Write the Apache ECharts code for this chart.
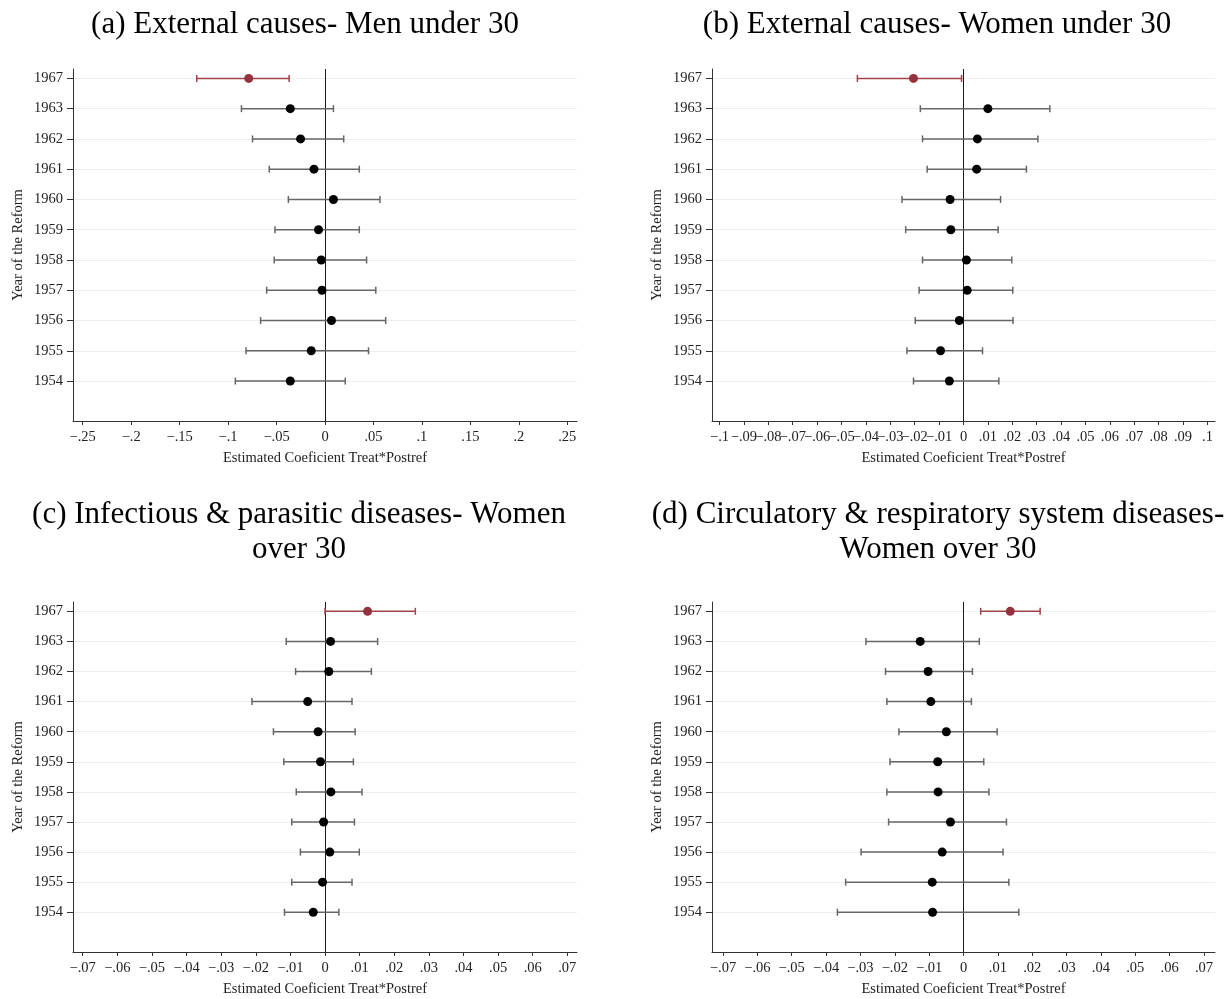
<!DOCTYPE html>
<html>
<head>
<meta charset="utf-8">
<script src="https://cdn.jsdelivr.net/npm/echarts@6/dist/echarts.min.js"></script>
<style>
  html, body { margin: 0; padding: 0; background: #fff; }
  #chart { width: 1225px; height: 999px; }
</style>
</head>
<body>
<div id="chart"></div>
<script>
// rows from bottom (index 0) to top
const years = ["1954", "1955", "1956", "1957", "1958", "1959", "1960", "1961", "1962", "1963", "1967"];
const highlightYear = "1967";

// (a) External causes - Men under 30
const estA = [-0.0358, -0.0142, 0.0067, -0.0031, -0.0039, -0.0067, 0.0087, -0.0114, -0.0252, -0.0358, -0.0787];
const loA = [-0.0925, -0.0815, -0.0665, -0.0602, -0.0524, -0.0516, -0.0378, -0.0575, -0.0748, -0.0862, -0.1323];
const hiA = [0.0209, 0.0449, 0.0626, 0.0524, 0.0429, 0.0354, 0.0567, 0.0354, 0.0193, 0.0087, -0.0370];

// (b) External causes - Women under 30
const estB = [-0.0058, -0.0094, -0.0017, 0.0015, 0.0012, -0.0052, -0.0055, 0.0054, 0.0057, 0.0100, -0.0205];
const loB = [-0.0205, -0.0232, -0.0198, -0.0182, -0.0168, -0.0237, -0.0252, -0.0149, -0.0168, -0.0177, -0.0435];
const hiB = [0.0145, 0.0078, 0.0203, 0.0202, 0.0198, 0.0142, 0.0152, 0.0258, 0.0305, 0.0354, -0.0008];

// (c) Infectious & parasitic diseases - Women over 30
const estC = [-0.0034, -0.0007, 0.0014, -0.0004, 0.0017, -0.0013, -0.0020, -0.0050, 0.0011, 0.0016, 0.0123];
const loC = [-0.0117, -0.0096, -0.0071, -0.0096, -0.0083, -0.0119, -0.0149, -0.0211, -0.0085, -0.0112, 0.0000];
const hiC = [0.0040, 0.0078, 0.0099, 0.0085, 0.0107, 0.0082, 0.0087, 0.0078, 0.0134, 0.0152, 0.0261];

// (d) Circulatory & respiratory system diseases - Women over 30
const estD = [-0.0090, -0.0091, -0.0062, -0.0038, -0.0074, -0.0075, -0.0050, -0.0095, -0.0103, -0.0126, 0.0136];
const loD = [-0.0367, -0.0343, -0.0298, -0.0218, -0.0223, -0.0214, -0.0188, -0.0223, -0.0227, -0.0284, 0.0050];
const hiD = [0.0161, 0.0132, 0.0115, 0.0125, 0.0074, 0.0059, 0.0098, 0.0023, 0.0026, 0.0046, 0.0223];

// x tick labels
const ticksA = [-0.25, -0.2, -0.15, -0.1, -0.05, 0, 0.05, 0.1, 0.15, 0.2, 0.25];
const ticksB = [-0.1, -0.09, -0.08, -0.07, -0.06, -0.05, -0.04, -0.03, -0.02, -0.01, 0,
  0.01, 0.02, 0.03, 0.04, 0.05, 0.06, 0.07, 0.08, 0.09, 0.1];
const ticksCD = [-0.07, -0.06, -0.05, -0.04, -0.03, -0.02, -0.01, 0, 0.01, 0.02, 0.03, 0.04, 0.05, 0.06, 0.07];

const titles = [
  "(a) External causes- Men under 30",
  "(b) External causes- Women under 30",
  "(c) Infectious & parasitic diseases- Women\nover 30",
  "(d) Circulatory & respiratory system diseases-\nWomen over 30",
];
const xName = "Estimated Coeficient Treat*Postref";
const yName = "Year of the Reform";

const FONT = "Liberation Serif";
const RED = "#94333d";
const RED_LINE = "#a0424b";
const GRAY = "#666";

const panels = [
  { est: estA, lo: loA, hi: hiA, ticks: ticksA, xr: 0.26, grid: { left: 73, top: 69, width: 504, height: 352 }, title: [300, 2] },
  { est: estB, lo: loB, hi: hiB, ticks: ticksB, xr: 0.1031, grid: { left: 712, top: 69, width: 503, height: 352 }, title: [932, 2] },
  { est: estC, lo: loC, hi: hiC, ticks: ticksCD, xr: 0.0728, grid: { left: 73, top: 602, width: 504, height: 350 }, title: [294, 492] },
  { est: estD, lo: loD, hi: hiD, ticks: ticksCD, xr: 0.0732, grid: { left: 712, top: 602, width: 503, height: 350 }, title: [933, 492] },
];

const hlIndex = years.indexOf(highlightYear);
const rowValues = years.map((y, i) => i);

function fmtTick(v) {
  if (Math.abs(v) < 1e-9) return "0";
  const s = String(parseFloat(Math.abs(v).toFixed(2))).replace(/^0\./, ".");
  return (v < 0 ? "\u2212" : "") + s;
}

function errorBar(params, api) {
  const lo = api.coord([api.value(0), api.value(2)]);
  const hi = api.coord([api.value(1), api.value(2)]);
  const color = params.dataIndex === hlIndex ? RED_LINE : GRAY;
  const cap = 3.5;
  const style = { stroke: color, lineWidth: 1.5, fill: null };
  return {
    type: "group",
    children: [
      { type: "line", shape: { x1: lo[0], y1: lo[1], x2: hi[0], y2: hi[1] }, style: style },
      { type: "line", shape: { x1: lo[0], y1: lo[1] - cap, x2: lo[0], y2: lo[1] + cap }, style: style },
      { type: "line", shape: { x1: hi[0], y1: hi[1] - cap, x2: hi[0], y2: hi[1] + cap }, style: style },
    ],
  };
}

const option = {
  backgroundColor: "#fff",
  animation: false,
  title: [],
  grid: [],
  xAxis: [],
  yAxis: [],
  series: [],
};

panels.forEach((p, k) => {
  option.title.push({
    text: titles[k],
    left: p.title[0],
    top: p.title[1],
    textAlign: "center",
    textStyle: { fontFamily: FONT, fontSize: 31, fontWeight: "normal", color: "#000", lineHeight: 35 },
  });
  option.grid.push(Object.assign({ containLabel: false }, p.grid));
  option.xAxis.push({
    type: "value",
    gridIndex: k,
    min: -p.xr,
    max: p.xr,
    name: xName,
    nameLocation: "middle",
    nameGap: 30,
    nameTextStyle: { fontFamily: FONT, fontSize: 14.5, color: "#222" },
    axisLine: { show: true, onZero: false, lineStyle: { color: "#333", width: 1 } },
    axisTick: { show: true, length: 4, customValues: p.ticks, lineStyle: { color: "#333" } },
    axisLabel: {
      customValues: p.ticks,
      margin: 9,
      fontFamily: FONT,
      fontSize: 14.5,
      color: "#222",
      formatter: fmtTick,
    },
    splitLine: { show: false },
  });
  option.yAxis.push({
    type: "value",
    gridIndex: k,
    min: -1.32,
    max: 10.31,
    minInterval: 1,
    maxInterval: 1,
    splitNumber: 12,
    name: yName,
    nameLocation: "middle",
    nameGap: 47,
    nameTextStyle: { fontFamily: FONT, fontSize: 14.5, color: "#222" },
    axisLine: { show: true, onZero: false, lineStyle: { color: "#333", width: 1 } },
    axisTick: { show: true, length: 6, customValues: rowValues, lineStyle: { color: "#333" } },
    axisLabel: {
      customValues: rowValues,
      margin: 10,
      fontFamily: FONT,
      fontSize: 14.5,
      color: "#222",
      formatter: (v) => (Number.isInteger(v) && years[v] ? years[v] : ""),
    },
    splitLine: { show: true, lineStyle: { color: "#e9f0f1", width: 1 } },
  });
  option.series.push({
    type: "custom",
    xAxisIndex: k,
    yAxisIndex: k,
    renderItem: errorBar,
    encode: { x: [0, 1], y: 2 },
    data: p.lo.map((lo, i) => [lo, p.hi[i], rowValues[i]]),
    z: 3,
    silent: true,
  });
  option.series.push({
    type: "scatter",
    xAxisIndex: k,
    yAxisIndex: k,
    symbol: "circle",
    symbolSize: 9,
    data: p.est.map((v, i) => [v, rowValues[i]]),
    itemStyle: { color: (params) => (params.dataIndex === hlIndex ? RED : "#000"), opacity: 1 },
    z: 4,
    markLine: {
      silent: true,
      symbol: ["none", "none"],
      label: { show: false },
      lineStyle: { color: "#1a1a1a", width: 1, type: "solid" },
      data: [{ xAxis: 0 }],
      z: 2,
    },
  });
});

const chart = echarts.init(document.getElementById("chart"));
chart.setOption(option);
window.addEventListener("resize", () => {
  chart.resize();
});
</script>
</body>
</html>
